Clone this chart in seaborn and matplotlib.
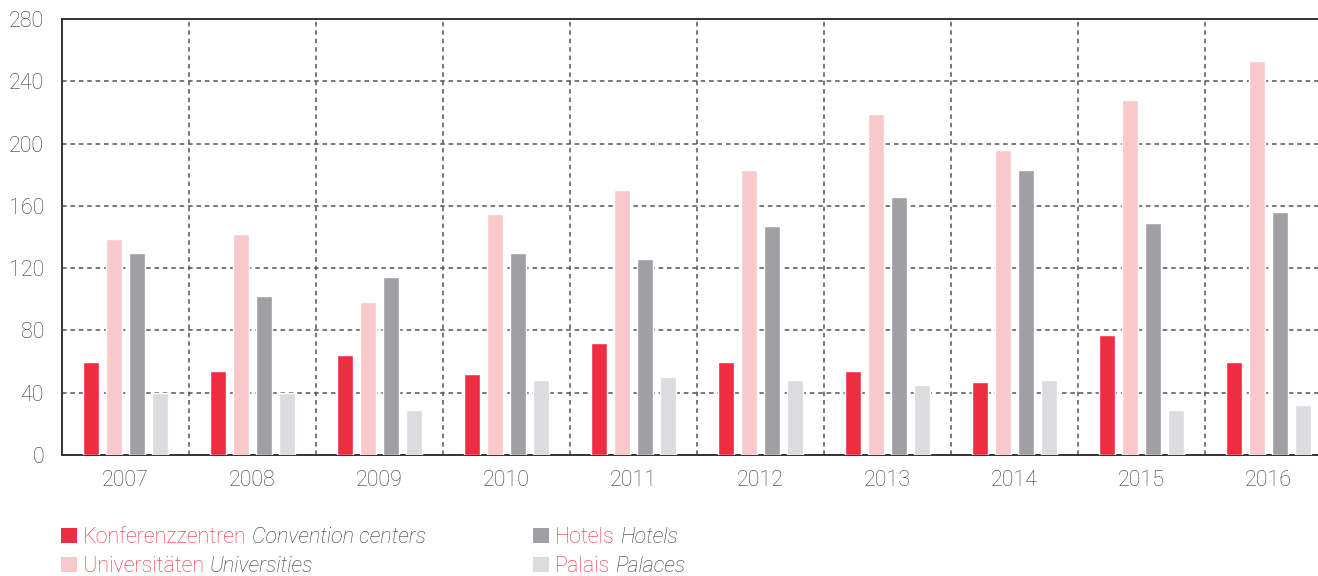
import matplotlib
matplotlib.use("Agg")
import matplotlib.pyplot as plt
from matplotlib.patches import Patch
from matplotlib.ticker import MultipleLocator, FixedLocator
import seaborn as sns
import pandas as pd


years = ["2007", "2008", "2009", "2010", "2011", "2012", "2013", "2014", "2015", "2016"]
convention = [60, 54, 64, 52, 72, 60, 54, 47, 77, 60]
universities = [139, 142, 98, 155, 170, 183, 219, 196, 228, 253]
hotels = [130, 102, 114, 130, 126, 147, 166, 183, 149, 156]
palaces = [40, 40, 29, 48, 50, 48, 45, 48, 29, 32]

german = ["Konferenzzentren", "Universitäten", "Hotels", "Palais"]
english = ["Convention centers", "Universities", "Hotels", "Palaces"]
colors = ["#EE2D42", "#F8C8CB", "#A0A0A4", "#DCDCDE"]

RED = "#EE2D42"
TXT = "#3A3A3A"
W, H = 1318, 576
FS = 15.5

rows = []
for name, vals in zip(german, [convention, universities, hotels, palaces]):
    for y, v in zip(years, vals):
        rows.append({"year": y, "value": v, "type": name})
df = pd.DataFrame(rows)

sns.set_style("white")
plt.rcParams["font.family"] = ["Roboto", "DejaVu Sans"]
plt.rcParams["font.weight"] = "light"

fig = plt.figure(figsize=(W / 100, H / 100), dpi=100)
# axes runs a little past the right edge, as in the original
ax = fig.add_axes([62 / W, 1 - 455 / H, 1270 / W, 436 / H])

sns.barplot(data=df, x="year", y="value", hue="type", hue_order=german,
            palette=colors, saturation=1, width=0.72, gap=0.3,
            legend=False, ax=ax, zorder=3)

ax.set_xlim(-0.5, 9.5)
ax.set_ylim(0, 280)
ax.yaxis.set_major_locator(MultipleLocator(40))
ax.xaxis.set_minor_locator(FixedLocator([i + 0.5 for i in range(9)]))

grid_kw = dict(color="#555555", linestyle=(0, (3, 2.5)), linewidth=1.1)
ax.grid(axis="y", which="major", **grid_kw)
ax.grid(axis="x", which="minor", **grid_kw)
ax.grid(axis="x", which="major", visible=False)
ax.set_axisbelow(True)

for side in ["left", "bottom", "top"]:
    ax.spines[side].set_visible(True)
    ax.spines[side].set_color("#333333")
    ax.spines[side].set_linewidth(1.4)
ax.spines["right"].set_visible(False)

ax.tick_params(axis="both", which="both", length=0, labelsize=FS, labelcolor=TXT)
ax.tick_params(axis="y", pad=13)
ax.tick_params(axis="x", pad=11)
ax.set_xlabel("")
ax.set_ylabel("")

# legend: two columns, German word in red, English word in italics
legends = []
for idx, x_px in [([0, 1], 61), ([2, 3], 533)]:
    handles = [Patch(facecolor=colors[i], edgecolor="none") for i in idx]
    leg = fig.legend(handles, [german[i] for i in idx],
                     loc="upper left", bbox_to_anchor=(x_px / W, 1 - 527 / H),
                     frameon=False, fontsize=FS, labelcolor=RED,
                     handlelength=0.75, handleheight=0.72, handletextpad=0.28,
                     labelspacing=0.36, borderpad=0, borderaxespad=0)
    legends.append((leg, idx))

fig.canvas.draw()
renderer = fig.canvas.get_renderer()
for leg, idx in legends:
    for t, i in zip(leg.get_texts(), idx):
        bb = t.get_window_extent(renderer)
        fig.text((bb.x1 + 5) / W, bb.y0 / H, english[i], va="bottom", ha="left",
                 fontsize=FS, style="italic", color=TXT)

fig.savefig("out.png", dpi=100)
